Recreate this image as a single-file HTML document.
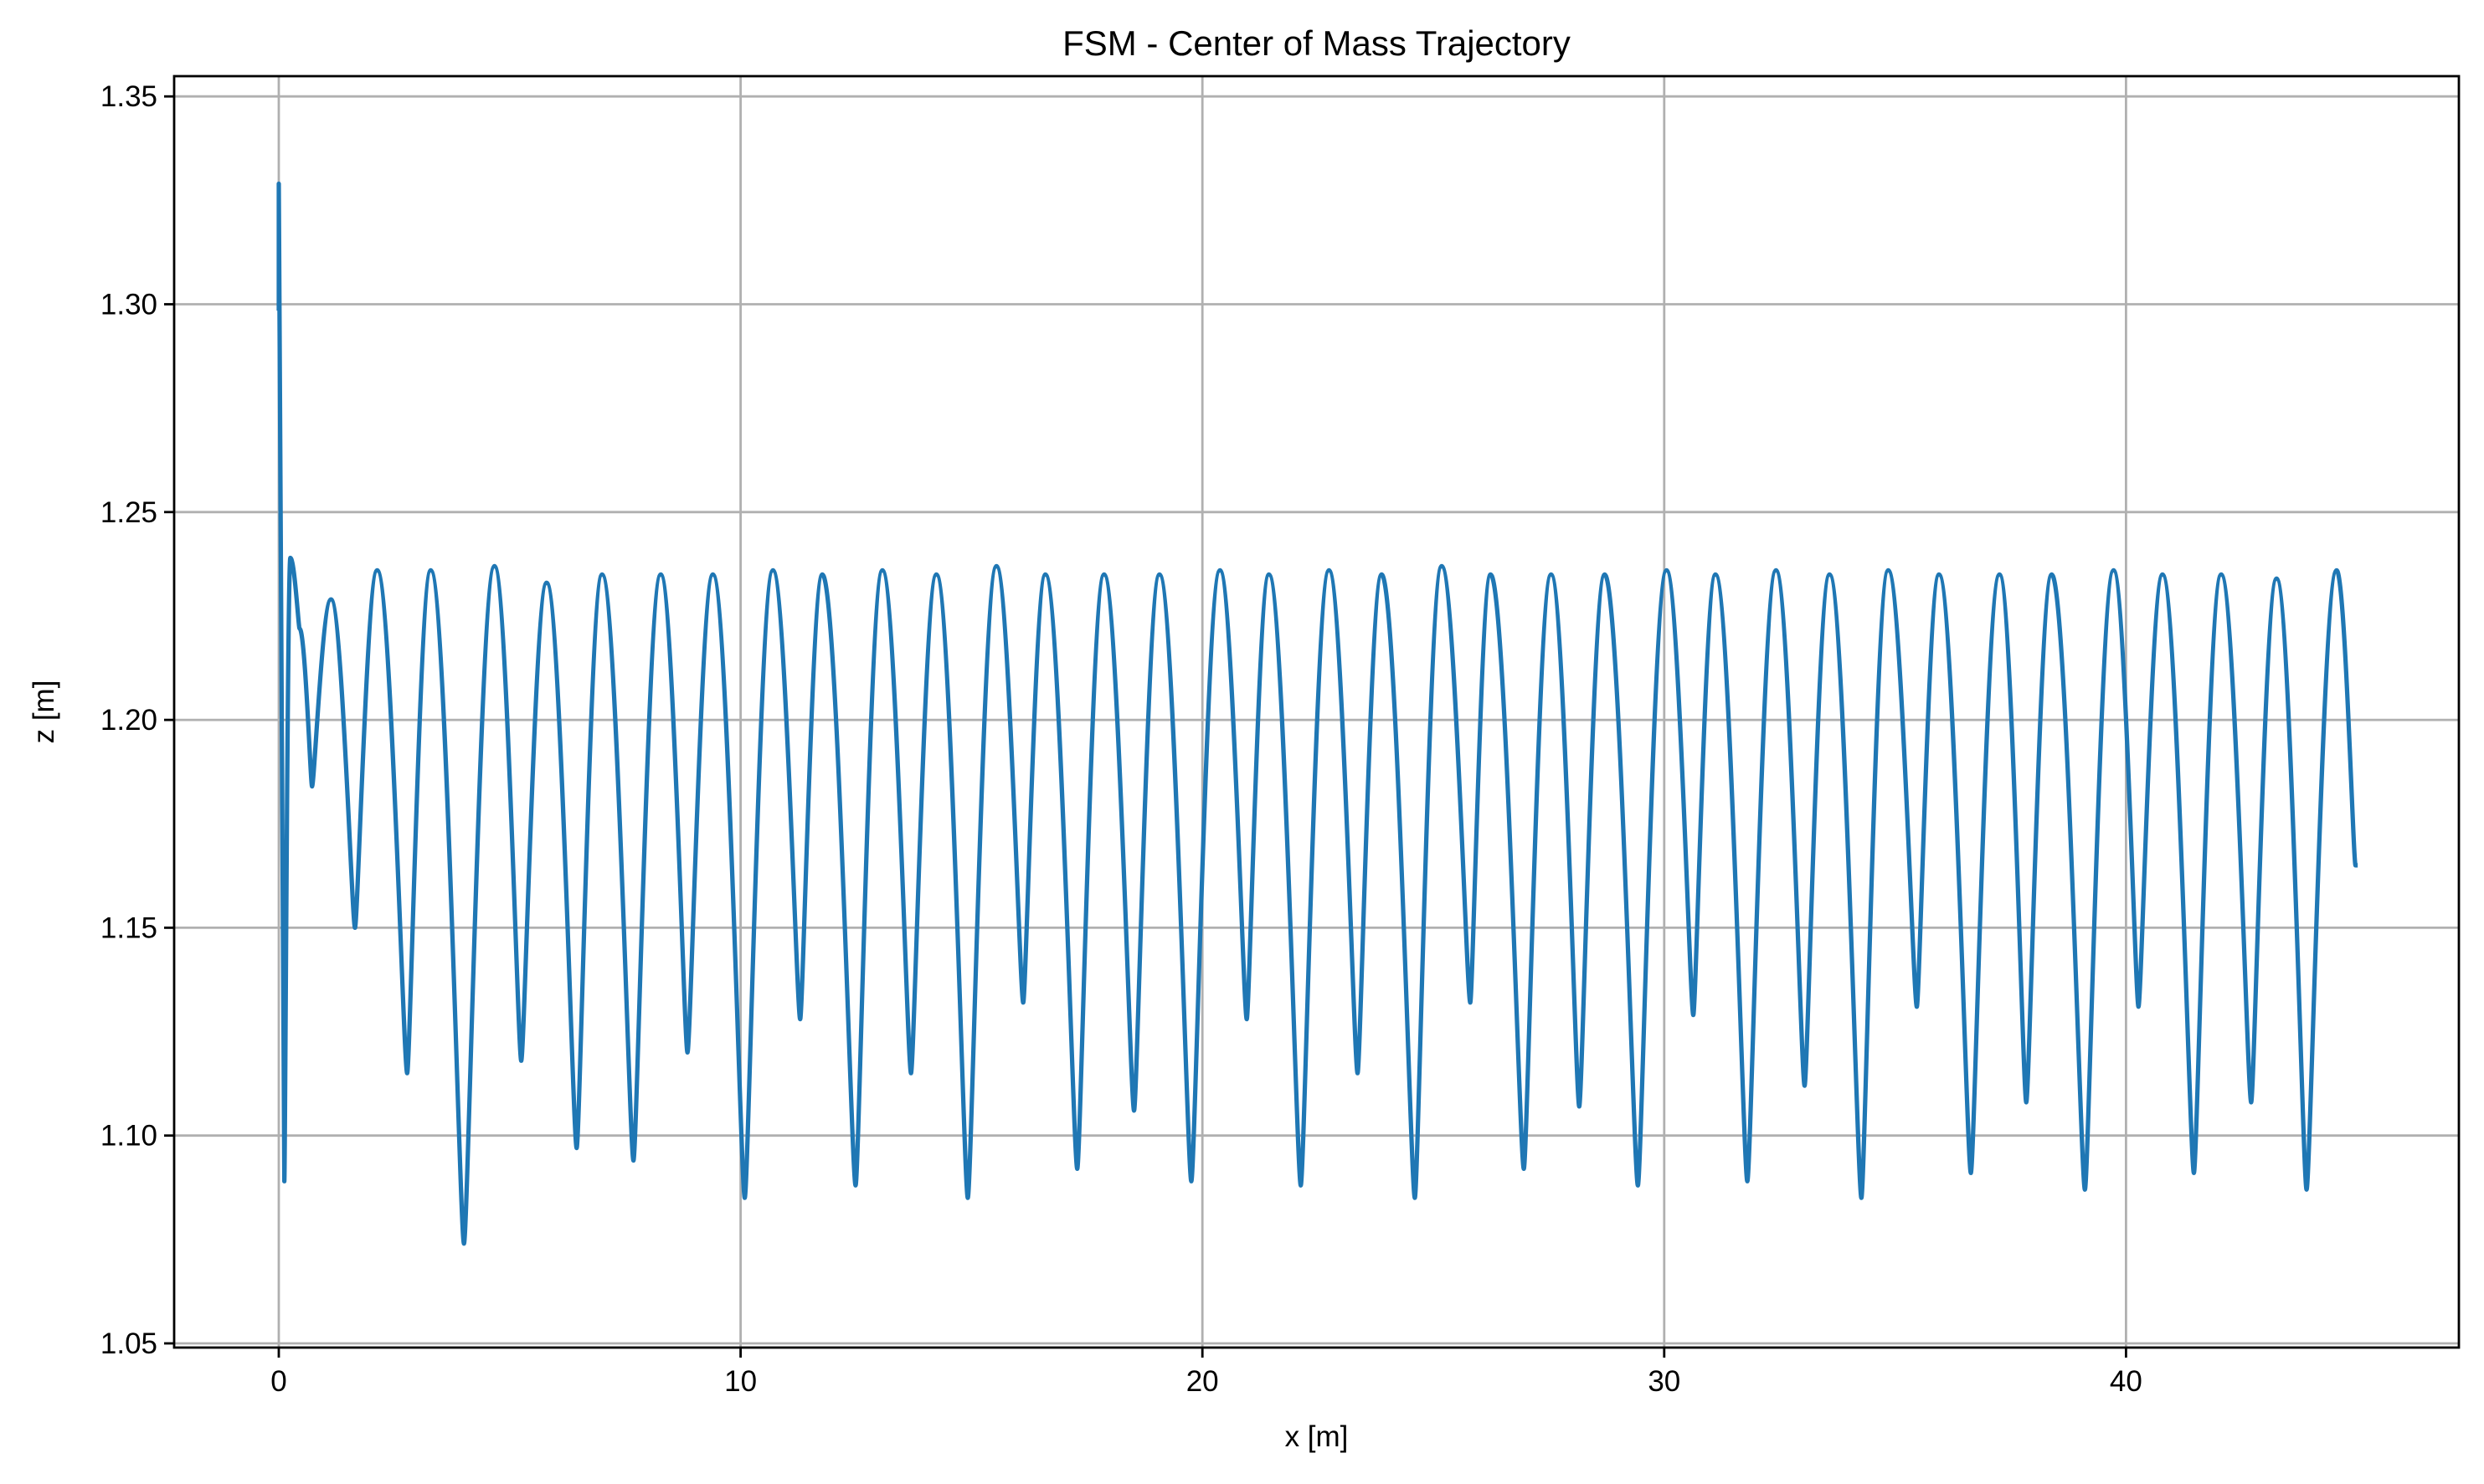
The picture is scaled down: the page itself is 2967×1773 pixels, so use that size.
<!DOCTYPE html>
<html><head><meta charset="utf-8"><style>
html,body{margin:0;padding:0;background:#fff;}
svg text{font-family:"Liberation Sans","DejaVu Sans",sans-serif;fill:#000;}
</style></head><body>
<svg id="chart" width="2967" height="1768" viewBox="0 0 2967 1768" xmlns="http://www.w3.org/2000/svg">
<rect width="2967" height="1768" fill="#fff"/>
<g id="grid"></g>
<g id="series"></g>
<g id="axes"></g>
</svg>
<script>
const xTicks=[0,10,20,30,40];
const yTicks=[1.05,1.10,1.15,1.20,1.25,1.30,1.35];
const yTickLabels=["1.05","1.10","1.15","1.20","1.25","1.30","1.35"];
const startX=[0,0,0.12];
const startZ=[1.299,1.329,1.089];
const extX=[0.25,0.45,0.72,1.13,1.65,2.13,2.78,3.29,4.01,4.67,5.25,5.80,6.45,7.0,7.68,8.27,8.85,9.40,10.09,10.70,11.29,11.77,12.49,13.07,13.69,14.24,14.92,15.54,16.12,16.60,17.29,17.87,18.52,19.07,19.76,20.38,20.96,21.44,22.13,22.74,23.36,23.88,24.60,25.18,25.80,26.24,26.96,27.55,28.16,28.71,29.43,30.05,30.63,31.11,31.80,32.42,33.04,33.58,34.27,34.85,35.47,35.95,36.64,37.26,37.84,38.39,39.11,39.73,40.27,40.79,41.47,42.06,42.71,43.26,43.91,44.56,44.97];
const extZ=[1.239,1.222,1.184,1.229,1.150,1.236,1.115,1.236,1.074,1.237,1.118,1.233,1.097,1.235,1.094,1.235,1.120,1.235,1.085,1.236,1.128,1.235,1.088,1.236,1.115,1.235,1.085,1.237,1.132,1.235,1.092,1.235,1.106,1.235,1.089,1.236,1.128,1.235,1.088,1.236,1.115,1.235,1.085,1.237,1.132,1.235,1.092,1.235,1.107,1.235,1.088,1.236,1.129,1.235,1.089,1.236,1.112,1.235,1.085,1.236,1.131,1.235,1.091,1.235,1.108,1.235,1.087,1.236,1.131,1.235,1.091,1.235,1.108,1.234,1.087,1.236,1.165];

const L=208,R=2937,T=91,B=1610;
const X=v=>333+v*55.16;
const Y=v=>1605-(v-1.05)*4966;
const NS="http://www.w3.org/2000/svg";
function mk(tag,attrs,parent){const e=document.createElementNS(NS,tag);for(const k in attrs)e.setAttribute(k,attrs[k]);parent.appendChild(e);return e;}
const grid=document.getElementById('grid'),axes=document.getElementById('axes'),series=document.getElementById('series');

xTicks.forEach(t=>{
  const g=mk('line',{x1:X(t),x2:X(t),y1:T,y2:B,stroke:'#b0b0b0','stroke-width':2.8},grid);
  
  
  mk('line',{x1:X(t),x2:X(t),y1:B,y2:B+12,stroke:'#000','stroke-width':2.8},axes);
  const tx=mk('text',{x:X(t),y:B+52,'text-anchor':'middle','font-size':35},axes);
  tx.textContent=String(t);
  
  
});
yTicks.forEach((t,i)=>{
  const g=mk('line',{x1:L,x2:R,y1:Y(t),y2:Y(t),stroke:'#b0b0b0','stroke-width':2.8},grid);
  
  
  mk('line',{x1:L-12,x2:L,y1:Y(t),y2:Y(t),stroke:'#000','stroke-width':2.8},axes);
  const tx=mk('text',{x:L-20,y:Y(t)+12,'text-anchor':'end','font-size':35},axes);
  tx.textContent=yTickLabels[i];
  
  
});
const frame=mk('rect',{x:L,y:T,width:R-L,height:B-T,fill:'none',stroke:'#000','stroke-width':2.8},axes);



let d='M'+X(startX[0])+','+Y(startZ[0]);
for(let i=1;i<startX.length;i++) d+=' L'+X(startX[i])+','+Y(startZ[i]);
let px=startX[startX.length-1],pz=startZ[startZ.length-1];
for(let i=0;i<extX.length;i++){
  const x0=X(px),y0=Y(pz),x1=X(extX[i]),y1=Y(extZ[i]),dx=x1-x0;
  const down=extZ[i]<pz;
  const c1=down?0.45:0.12, c2=down?0.12:0.45;
  d+=` C${x0+dx*c1},${y0} ${x1-dx*c2},${y1} ${x1},${y1}`;
  px=extX[i];pz=extZ[i];
}
const path=mk('path',{d:d,fill:'none',stroke:'#1f77b4','stroke-width':5.2,'stroke-linejoin':'round','stroke-linecap':'square'},series);



const title=mk('text',{x:(L+R)/2,y:66,'text-anchor':'middle','font-size':42},axes);
title.textContent='FSM - Center of Mass Trajectory';


const xl=mk('text',{x:(L+R)/2,y:1728,'text-anchor':'middle','font-size':35},axes);
xl.textContent='x [m]';


const yl=mk('text',{x:0,y:0,'text-anchor':'middle','font-size':35,transform:`translate(64,${(T+B)/2}) rotate(-90)`},axes);
yl.textContent='z [m]';


</script>
</body></html>
